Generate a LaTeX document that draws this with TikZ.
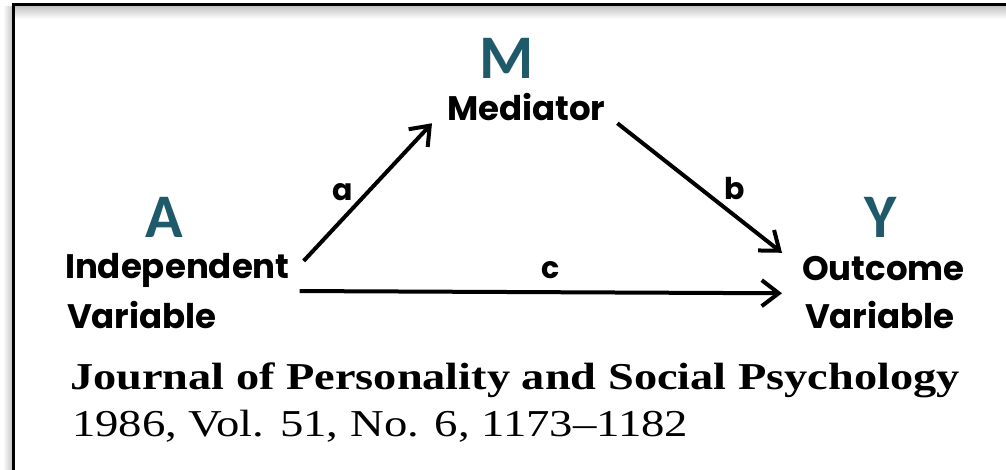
\documentclass[tikz,border=0pt]{standalone}
\usepackage{fontspec}
\usetikzlibrary{calc,positioning,arrows.meta}
\newfontfamily\varfont{Poppins}
\newfontfamily\letterfont{Carlito}
\newfontfamily\journalfont[FakeStretch=1.23]{Liberation Serif}
\newfontfamily\titlefont[FakeStretch=1.22]{Liberation Serif}
\definecolor{lettercol}{RGB}{31,90,106}
\tikzset{>={Straight Barb[length=17pt,width=26pt]}}

\begin{document}
\begin{tikzpicture}[x=1pt, y=-1pt, inner sep=0pt, outer sep=0pt,
  letter/.style={font=\letterfont\bfseries\fontsize{62}{62}\selectfont, text=lettercol},
  varname/.style={font=\varfont\bfseries\fontsize{34}{34}\selectfont, anchor=base west},
  coef/.style={font=\varfont\bfseries\fontsize{30}{30}\selectfont},
  link/.style={line width=4pt, ->},
  journal/.style={font=\journalfont\fontsize{38}{38}\selectfont, anchor=base west}]
\useasboundingbox (0,0) rectangle (1006,470);
% frame
\shade[top color=black!22, bottom color=white] (15,7) rectangle (1006,19);
\shade[left color=white, right color=black!22] (3,7) rectangle (12,470);
\draw[line width=3pt] (13,470) -- (13,5) -- (1006,5);
% letters
\node[letter] (m) at (507,58) {M};
\node[letter] (a) at (164,217) {A};
\node[letter] (y) at (881,217) {Y};
% variables
\node[varname] (med) at (447,121) {Mediator};
\node[varname] (iv) at (65,279) {Independent};
\node[varname] (iv2) at (67,328) {Variable};
\node[varname] (dv) at (802,280) {Outcome};
\node[varname] (dv2) at (805,328) {Variable};
% paths
\draw[link] ($(iv.east)+(14,-10)$) -- ($(med.south west)+(-15,2)$)
  node[coef, midway, xshift=-25pt] {a};
\draw[link] ($(med.south east)+(12,2)$) -- ($(dv.north west)+(-20,-3)$)
  node[coef, midway, xshift=35pt] {b};
\draw[link] ($(iv.south east)+(10,3)$) -- ($(dv.south west)+(-20,13)$)
  node[coef, midway, xshift=10pt, yshift=22pt] {c};
% source
\node[journal, font=\titlefont\bfseries\fontsize{38}{38}\selectfont] (jr1) at (70,389) {Journal of Personality and Social Psychology};
\node[journal] (jr2) at (72,436) {1986, Vol. 51, No. 6, 1173–1182};
\end{tikzpicture}
\end{document}
